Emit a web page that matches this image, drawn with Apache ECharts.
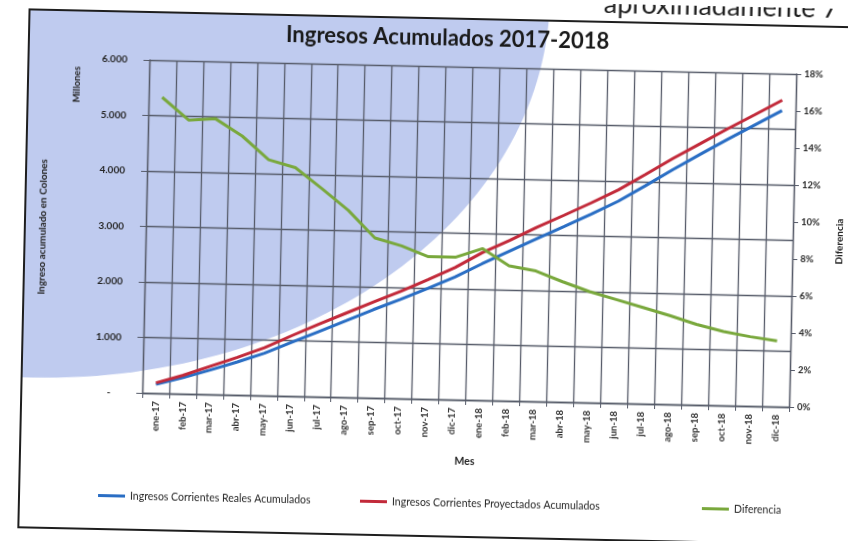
<!DOCTYPE html>
<html>
<head>
<meta charset="utf-8">
<script src="https://cdn.jsdelivr.net/npm/echarts@6/dist/echarts.min.js"></script>
<style>
  html, body { margin:0; padding:0; background:#fff; }
  #page { width:848px; height:541px; position:relative; overflow:hidden; background:#fff; }
  /* la hoja escaneada viene un poco girada */
  #myChart { width:848px; height:541px; transform:rotate(1.24deg); transform-origin:424px 270px; }
</style>
</head>
<body>
<div id="page"><div id="myChart"></div></div>
<script>
var meses = ['ene-17','feb-17','mar-17','abr-17','may-17','jun-17','jul-17','ago-17','sep-17','oct-17','nov-17','dic-17',
             'ene-18','feb-18','mar-18','abr-18','may-18','jun-18','jul-18','ago-18','sep-18','oct-18','nov-18','dic-18'];
// millones de colones
var reales = [160, 290, 440, 595, 765, 970, 1175, 1380, 1590, 1785, 1995, 2210,
              2460, 2695, 2930, 3160, 3395, 3640, 3930, 4230, 4515, 4795, 5065, 5335];
var proyectados = [186, 333, 506, 678, 863, 1090, 1308, 1518, 1727, 1931, 2150, 2380,
                   2660, 2890, 3138, 3365, 3599, 3844, 4134, 4433, 4709, 4987, 5252, 5522];
// porcentaje
var diferencia = [16.0, 14.8, 14.9, 14.0, 12.75, 12.35, 11.25, 10.1, 8.65, 8.25, 7.7, 7.7,
                  8.2, 7.3, 7.05, 6.5, 6.0, 5.6, 5.2, 4.8, 4.35, 4.0, 3.75, 3.55];
var etiquetasColones = ['-    ', '1.000', '2.000', '3.000', '4.000', '5.000', '6.000'];

var gris = '#565b69';
var texto = '#262626';
var fuente = 'Lato';

var myChart = echarts.init(document.getElementById('myChart'));
var option = {
  animation: false,
  backgroundColor: 'transparent',
  textStyle: { fontFamily: fuente },
  title: {
    text: 'Ingresos Acumulados 2017-2018',
    left: 276,
    top: 22,
    textStyle: { fontFamily: fuente, fontSize: 22, fontWeight: 'bold', color: '#1a1a1a' }
  },
  grid: { left: 145, right: 56, top: 66, bottom: 142, outerBoundsMode: 'none' },
  legend: [
    { data: ['Ingresos Corrientes Reales Acumulados'], left: 98, top: 492 },
    { data: ['Ingresos Corrientes Proyectados Acumulados'], left: 360, top: 492 },
    { data: ['Diferencia'], left: 702, top: 492 }
  ].map(function (l) {
    l.icon = 'rect';
    l.itemWidth = 27;
    l.itemHeight = 3;
    l.textStyle = { fontFamily: fuente, fontSize: 10.5, color: texto };
    return l;
  }),
  xAxis: {
    type: 'category',
    data: meses,
    boundaryGap: true,
    name: 'Mes',
    nameLocation: 'middle',
    nameGap: 56,
    nameTextStyle: { fontFamily: fuente, fontSize: 10.5, fontWeight: 'bold', color: texto },
    axisLine: { lineStyle: { color: gris, width: 1.3 } },
    axisTick: { show: true, length: 5, lineStyle: { color: gris } },
    axisLabel: { rotate: 90, interval: 0, margin: 8, fontSize: 9.5, fontWeight: 'bold', color: '#333' },
    splitLine: { show: true, lineStyle: { color: gris, width: 1.3 } }
  },
  yAxis: [
    {
      type: 'value',
      position: 'left',
      min: 0,
      max: 6000,
      interval: 1000,
      axisLine: { show: true, lineStyle: { color: gris, width: 1.3 } },
      axisTick: { show: true, length: 6, lineStyle: { color: gris } },
      axisLabel: {
        margin: 22, fontSize: 10, fontWeight: 'bold', color: texto,
        formatter: function (v) { return etiquetasColones[Math.round(v / 1000)]; }
      },
      splitLine: { show: true, lineStyle: { color: gris, width: 1.3 } }
    },
    {
      type: 'value',
      position: 'right',
      min: 0,
      max: 18,
      interval: 2,
      name: 'Diferencia',
      nameLocation: 'middle',
      nameRotate: 90,
      nameGap: 42,
      nameTextStyle: { fontFamily: fuente, fontSize: 10, fontWeight: 'bold', color: texto },
      axisLine: { show: true, lineStyle: { color: gris, width: 1.3 } },
      axisTick: { show: true, length: 5, lineStyle: { color: gris } },
      axisLabel: { margin: 8, fontSize: 9.5, fontWeight: 'bold', color: texto, formatter: '{value}%' },
      splitLine: { show: false }
    }
  ],
  graphic: [
    // fondo azul claro de la diapositiva
    { type: 'ellipse', z: -20, silent: true, shape: { cx: 34, cy: -2, rx: 510, ry: 388 }, style: { fill: '#bfcbef' } },
    { type: 'rect', z: -15, silent: true, shape: { x: -200, y: -200, width: 1300, height: 218 }, style: { fill: '#fff' } },
    { type: 'rect', z: -15, silent: true, shape: { x: -200, y: -200, width: 224, height: 900 }, style: { fill: '#fff' } },
    // marco
    { type: 'rect', z: -5, silent: true, shape: { x: 24, y: 18, width: 900, height: 518 }, style: { fill: 'none', stroke: '#1e1e1e', lineWidth: 2 } },
    { type: 'text', z: 5, silent: true, rotation: Math.PI / 2, x: 73, y: 92,
      style: { text: 'Millones', x: 0, y: 0, textAlign: 'center', textVerticalAlign: 'middle', font: 'bold 9.5px Lato', fill: texto } },
    { type: 'text', z: 5, silent: true, rotation: Math.PI / 2, x: 42, y: 235,
      style: { text: 'Ingreso acumulado en Colones', x: 0, y: 0, textAlign: 'center', textVerticalAlign: 'middle', font: 'bold 10px Lato', fill: texto } },
    // texto del documento que queda cortado arriba
    { type: 'text', z: 5, silent: true,
      style: { text: 'aproximadamente 7', x: 598, y: 14, textAlign: 'left', textVerticalAlign: 'bottom', font: '27px Lato', fill: '#1e1e1e' } }
  ],
  series: [
    {
      name: 'Ingresos Corrientes Reales Acumulados',
      type: 'line',
      yAxisIndex: 0,
      data: reales,
      showSymbol: false,
      symbol: 'none',
      lineStyle: { color: '#2a6ec4', width: 3 },
      itemStyle: { color: '#2a6ec4' }
    },
    {
      name: 'Ingresos Corrientes Proyectados Acumulados',
      type: 'line',
      yAxisIndex: 0,
      data: proyectados,
      showSymbol: false,
      symbol: 'none',
      lineStyle: { color: '#c22a3a', width: 3 },
      itemStyle: { color: '#c22a3a' }
    },
    {
      name: 'Diferencia',
      type: 'line',
      yAxisIndex: 1,
      data: diferencia,
      showSymbol: false,
      symbol: 'none',
      lineStyle: { color: '#79a83c', width: 3 },
      itemStyle: { color: '#79a83c' }
    }
  ]
};
myChart.setOption(option);
</script>
</body>
</html>
